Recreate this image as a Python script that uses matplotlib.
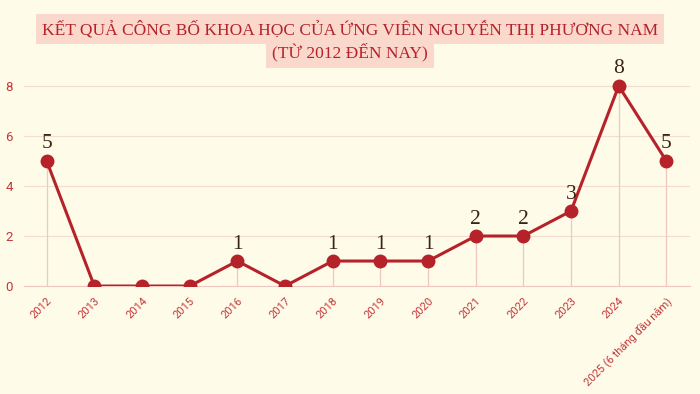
import matplotlib.pyplot as plt

years = ['2012', '2013', '2014', '2015', '2016', '2017', '2018', '2019',
         '2020', '2021', '2022', '2023', '2024', '2025 (6 tháng đầu năm)']
counts = [5, 0, 0, 0, 1, 0, 1, 1, 1, 2, 2, 3, 8, 5]
y_ticks = [0, 2, 4, 6, 8]

bg = '#fefbe8'
red = '#b5222a'
tick_red = '#c4373c'
grid_c = '#f3ddd0'
tick_font = ['Liberation Sans Narrow', 'Roboto', 'DejaVu Sans']

fig = plt.figure(figsize=(7, 3.94), dpi=100, facecolor=bg)
ax = fig.add_axes([0.034, 0.274, 0.952, 0.565], facecolor=bg)

x = list(range(len(years)))
# drop lines from each point down to zero
for xi, v in zip(x, counts):
    if v > 0:
        ax.plot([xi, xi], [0, v], color='#f0c8c0', lw=0.9, zorder=1)
ax.plot(x, counts, color=red, lw=2.2, marker='o', markersize=9, zorder=3)

for xi, v in zip(x, counts):
    if v > 0:
        ax.text(xi, v + 0.3, str(v), ha='center', va='bottom',
                fontsize=15.5, family='Liberation Serif', color='#3a2418')

ax.set_xlim(-0.48, 13.5)
ax.set_ylim(0, 8.9)
ax.set_yticks(y_ticks)
ax.set_yticklabels([str(t) for t in y_ticks], family=tick_font)
ax.set_xticks(x)
ax.set_xticklabels(years, rotation=45, ha='right', rotation_mode='anchor',
                   family=tick_font)
ax.tick_params(axis='both', colors=tick_red, labelsize=8, length=0, pad=6)
ax.tick_params(axis='y', labelsize=9.5, pad=8)
ax.tick_params(axis='x', pad=7)
ax.yaxis.grid(True, color=grid_c, lw=0.8)
ax.set_axisbelow(True)
for s in ['top', 'right', 'left']:
    ax.spines[s].set_visible(False)
ax.spines['bottom'].set_color('#f0c8c0')

title_kw = dict(ha='center', va='center', color='#b5222a',
                family='Liberation Serif', fontsize=12.5,
                bbox=dict(boxstyle='square,pad=0.35', fc='#fad8cc', ec='none'))
fig.text(0.5, 0.927, 'KẾT QUẢ CÔNG BỐ KHOA HỌC CỦA ỨNG VIÊN NGUYỄN THỊ PHƯƠNG NAM', **title_kw)
fig.text(0.5, 0.867, '(TỪ 2012 ĐẾN NAY)', **title_kw)

fig.savefig('out.png', dpi=100, facecolor=bg)
